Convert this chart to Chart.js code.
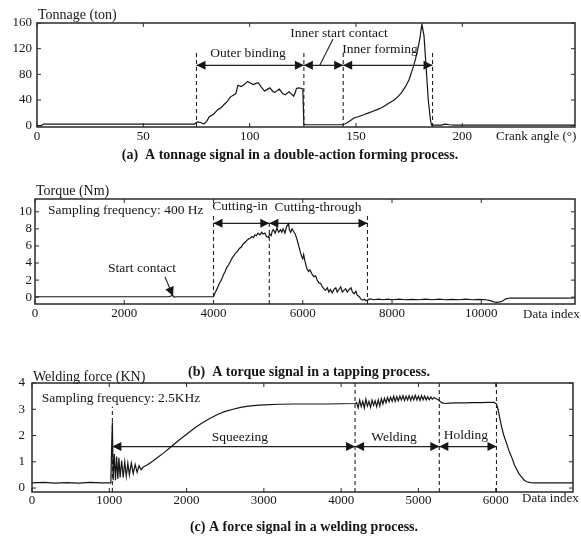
<!DOCTYPE html>
<html><head><meta charset="utf-8">
<script src="https://cdn.jsdelivr.net/npm/chart.js@4.4.0/dist/chart.umd.min.js"></script>
<style>
html,body{margin:0;padding:0;background:#fff;}
#wrap{position:relative;width:581px;height:538px;background:#fff;}
canvas{position:absolute;left:0;top:0;}
</style></head><body>
<div id="wrap">
<canvas id="ca" width="581" height="538"></canvas>
<canvas id="cb" width="581" height="538"></canvas>
<canvas id="cc" width="581" height="538"></canvas>
</div>
<script>
// ---------- Panel (a): tonnage vs crank angle ----------
const angleA = [0,2,3,74,75.5,77,78.5,80,81,83,85,86.5,88,89.5,91,92.5,93.5,94.5,96,97.5,99,100.5,101.7,103,104,105.5,107,108.5,109.5,111,112,113,114,115.5,116.7,118.5,119.5,120.7,121.5,122,123,124.5,125,125.5,126.5,143.5,145,147,149,151,153.6,156,158,160,162,164,166,168,170,171.5,173.5,175,176,177,178,179,180,181,182,183,184,185,185.5,190,192,194,196,253];
const tonnageA = [0,0,2.5,2.5,6,5,2.5,8,14,18,25,28,33,38,45,48,50,63,61,64,69,66,64,66,67,60,54,57,59,53,52,55,57,50,48,53,50,46,52,58,59,58,57,2,1.5,1.5,3,7,12,14,17,20,22.5,25,28,32,36,40,46,52,62,72,82,92,104,118,135,158,140,90,40,10,1,1,2.5,1.5,1,1];
const ticksAX = [0,50,100,150,200];
const ticksAY = [0,40,80,120,160];
const phaseXA = [75,125.5,144,186];
const phaseTopA = [115,115,115,115];
const arrowsA = [[75,125.5],[125.5,144],[144,186]];
const arrowYA = 94;

// ---------- Panel (b): torque vs data index ----------
const indexB = [0,1500,3000,3080,3120,3160,3950,4000,4025,4080,4130,4176,4220,4260,4300,4340,4380,4420,4460,4500,4540,4580,4628,4660,4700,4740,4779,4820,4860,4900,4928,4960,5000,5040,5079,5110,5150,5190,5230,5260,5290,5320,5343,5380,5420,5460,5500,5530,5560,5600,5640,5682,5700,5730,5760,5795,5830,5869,5900,5944,5980,6000,6020,6050,6095,6130,6160,6208,6250,6290,6321,6360,6400,6440,6472,6510,6550,6585,6620,6659,6700,6740,6772,6810,6850,6885,6920,6960,6998,7040,7080,7111,7150,7190,7223,7260,7300,7336,7380,7410,7450,7500,7600,7700,7800,7900,8000,8150,8300,8450,8600,8750,8900,9050,9200,9350,9500,9650,9800,9950,10100,10200,10280,10350,10420,10480,10550,10650,10800,11000,11300,11600,11900,12100];
const torqueB = [0.05,0.05,0.05,0.2,0.0,0.05,0.05,0.05,0.4,1.0,1.6,2.0,2.6,3.0,3.5,3.8,4.2,4.6,4.9,5.2,5.4,5.7,5.9,6.2,6.4,6.6,6.8,6.9,7.1,7.0,7.3,7.2,7.5,7.3,7.6,7.4,7.5,7.1,7.0,7.4,7.2,7.8,7.9,7.5,8.1,7.6,7.9,7.6,8.0,7.5,8.3,8.6,7.9,7.6,8.0,7.7,7.4,6.8,6.2,5.3,4.7,4.5,5.0,4.2,3.3,3.0,3.2,2.7,2.4,2.5,2.0,1.7,1.6,1.2,1.0,0.8,1.1,0.6,0.9,0.5,0.9,1.1,0.6,0.9,1.2,0.6,0.8,1.0,0.6,0.9,1.1,0.6,0.4,0.7,0.2,0.1,-0.2,-0.35,-0.25,-0.4,-0.35,-0.2,-0.3,-0.22,-0.3,-0.24,-0.3,-0.22,-0.3,-0.25,-0.3,-0.22,-0.3,-0.24,-0.3,-0.25,-0.3,-0.24,-0.3,-0.25,-0.3,-0.4,-0.55,-0.6,-0.55,-0.45,-0.2,-0.1,-0.12,-0.1,-0.12,-0.1,-0.12,-0.1];
const ticksBX = [0,2000,4000,6000,8000,10000];
const ticksBY = [0,2,4,6,8,10];
const phaseXB = [4000,5250,7450];
const phaseTopB = [9.6,8.8,9.6];
const arrowsB = [[4000,5250],[5250,7450]];
const arrowYB = 8.65;

// ---------- Panel (c): welding force vs data index ----------
const indexC = [0,150,300,450,600,750,900,1020,1030,1040,1050,1065,1080,1095,1110,1125,1140,1160,1180,1200,1220,1240,1260,1285,1310,1335,1360,1385,1410,1440,1500,1560,1620,1700,1800,1900,2000,2100,2200,2300,2400,2500,2600,2700,2800,2900,3000,3200,3400,3600,3800,4000,4180,
 4200,4220,4240,4260,4280,4300,4320,4340,4360,4380,4400,4420,4440,4460,4480,4500,4520,4540,4560,4580,4600,4620,4640,4660,4680,4700,4720,4740,4760,4780,4800,4820,4840,4860,4880,4900,4920,4940,4960,4980,5000,5020,5040,5060,5080,5100,5120,5140,5160,5180,5200,
 5230,5260,5300,5340,5400,5500,5600,5700,5800,5900,5980,6010,6030,6050,6075,6100,6140,6180,6210,6240,6270,6300,6335,6370,6400,6450,6500,7000];
const forceC = [0.2,0.22,0.19,0.21,0.19,0.22,0.2,0.2,1.5,2.5,0.3,1.3,0.3,1.2,0.35,1.15,0.4,1.05,0.4,1.0,0.45,0.95,0.5,0.95,0.55,0.9,0.6,0.85,0.7,0.8,0.9,1.02,1.15,1.33,1.57,1.82,2.05,2.28,2.48,2.65,2.8,2.92,3.0,3.07,3.12,3.15,3.17,3.19,3.2,3.2,3.2,3.21,3.22,
 3.25,3.05,3.35,3.1,3.3,3.05,3.38,3.12,3.3,3.08,3.35,3.15,3.32,3.1,3.36,3.12,3.4,3.2,3.42,3.25,3.45,3.28,3.46,3.3,3.5,3.3,3.48,3.32,3.5,3.35,3.52,3.33,3.5,3.35,3.52,3.34,3.5,3.36,3.53,3.35,3.5,3.34,3.52,3.36,3.5,3.35,3.48,3.36,3.47,3.38,3.45,
 3.4,3.35,3.25,3.22,3.23,3.24,3.24,3.25,3.25,3.26,3.26,3.2,3.0,2.7,2.35,2.05,1.7,1.35,1.15,0.9,0.72,0.55,0.42,0.3,0.24,0.21,0.2,0.2];
const ticksCX = [0,1000,2000,3000,4000,5000,6000];
const ticksCY = [0,1,2,3,4];
const phaseXC = [1040,4180,5270,6010];
const phaseTopC = [3.1,4,4,4];
const arrowsC = [[1040,4180],[4180,5270],[5270,6010]];
const arrowYC = 1.58;

// ---------- drawing ----------
const FONT = '"Liberation Serif", "Times New Roman", serif';
const INK = '#161616';
Chart.defaults.font.family = FONT;
Chart.defaults.color = INK;

function head(ctx, x, y, dir) {
  ctx.beginPath();
  ctx.moveTo(x, y);
  ctx.lineTo(x - dir * 9, y - 4.5);
  ctx.lineTo(x - dir * 9, y + 4.5);
  ctx.closePath();
  ctx.fill();
}

function makePanel(o) {
  const sets = [];
  sets.push({data: o.xs.map((x, i) => ({x: x, y: o.ys[i]})), borderColor: '#151515', borderWidth: 1.2, pointRadius: 0, tension: 0});
  o.phaseX.forEach((p, i) => sets.push({data: [{x: p, y: o.yMin}, {x: p, y: o.phaseTop[i]}], borderColor: '#222', borderWidth: 1.1, borderDash: [4, 3], pointRadius: 0}));
  o.arrows.forEach(a => sets.push({data: [{x: a[0], y: o.arrowY}, {x: a[1], y: o.arrowY}], borderColor: '#222', borderWidth: 1.2, pointRadius: 0}));
  (o.leaders || []).forEach(l => sets.push({data: [{x: l[0], y: l[1]}, {x: l[2], y: l[3]}], borderColor: '#222', borderWidth: 1.1, pointRadius: 0}));

  const deco = {
    id: 'deco',
    afterDatasetsDraw(chart) {
      const ctx = chart.ctx, xs = chart.scales.x, ys = chart.scales.y, a = chart.chartArea;
      ctx.save();
      ctx.fillStyle = INK;
      o.arrows.forEach(ar => {
        const py = ys.getPixelForValue(o.arrowY);
        head(ctx, xs.getPixelForValue(ar[0]), py, -1);
        head(ctx, xs.getPixelForValue(ar[1]), py, 1);
      });
      (o.pointers || []).forEach(p => {
        const x1 = xs.getPixelForValue(p[0]), y1 = ys.getPixelForValue(p[1]);
        const x2 = xs.getPixelForValue(p[2]), y2 = ys.getPixelForValue(p[3]);
        ctx.strokeStyle = '#222'; ctx.lineWidth = 1.1;
        ctx.beginPath(); ctx.moveTo(x1, y1); ctx.lineTo(x2, y2); ctx.stroke();
        const ang = Math.atan2(y2 - y1, x2 - x1);
        ctx.save(); ctx.translate(x2, y2); ctx.rotate(ang);
        ctx.beginPath(); ctx.moveTo(0, 0); ctx.lineTo(-9, -4.5); ctx.lineTo(-9, 4.5); ctx.closePath(); ctx.fill();
        ctx.restore();
      });
      // frame
      ctx.strokeStyle = '#2a2a2a'; ctx.lineWidth = 1.5;
      ctx.strokeRect(a.left, a.top, a.right - a.left, a.bottom - a.top);
      // inward ticks on all sides
      ctx.lineWidth = 1;
      o.xt.forEach(v => {
        const px = xs.getPixelForValue(v);
        ctx.beginPath(); ctx.moveTo(px, a.bottom); ctx.lineTo(px, a.bottom - 4);
        ctx.moveTo(px, a.top); ctx.lineTo(px, a.top + 4); ctx.stroke();
      });
      o.yt.forEach(v => {
        const py = ys.getPixelForValue(v);
        ctx.beginPath(); ctx.moveTo(a.left, py); ctx.lineTo(a.left + 4, py);
        ctx.moveTo(a.right, py); ctx.lineTo(a.right - 4, py); ctx.stroke();
      });
      // annotation texts in data coordinates
      ctx.textBaseline = 'middle';
      o.notes.forEach(n => {
        ctx.font = (n.size || 13.5) + 'px ' + FONT;
        ctx.textAlign = n.align || 'center';
        ctx.fillText(n.t, xs.getPixelForValue(n.x), ys.getPixelForValue(n.y));
      });
      // titles and captions (page positions)
      o.labels.forEach(n => {
        ctx.font = (n.weight || 'normal') + ' ' + (n.size || 14) + 'px ' + FONT;
        ctx.textAlign = n.align || 'left';
        ctx.fillText(n.t, n.px, n.py);
      });
      ctx.restore();
    }
  };

  return new Chart(document.getElementById(o.id), {
    type: 'line',
    data: {datasets: sets},
    options: {
      responsive: false, animation: false, devicePixelRatio: 1,
      plugins: {legend: {display: false}, tooltip: {enabled: false}},
      layout: {padding: {left: 0, top: o.area.top, right: 581 - o.area.right, bottom: 0}},
      scales: {
        x: {
          type: 'linear', min: o.xMin, max: o.xMax,
          grid: {display: false, drawTicks: false}, border: {display: false},
          afterBuildTicks: s => { s.ticks = o.xt.map(v => ({value: v})); },
          afterFit: s => { s.height = 538 - o.area.bottom; },
          ticks: {autoSkip: false, maxRotation: 0, padding: o.xPad, font: {size: 13}, color: INK, callback: v => String(v)}
        },
        y: {
          type: 'linear', min: o.yMin, max: o.yMax,
          grid: {display: false, drawTicks: false}, border: {display: false},
          afterBuildTicks: s => { s.ticks = o.yt.map(v => ({value: v})); },
          afterFit: s => { s.width = o.area.left; },
          ticks: {autoSkip: false, padding: o.yPad, font: {size: 13}, color: INK, callback: v => String(v)}
        }
      }
    },
    plugins: [deco]
  });
}

makePanel({
  id: 'ca', xs: angleA, ys: tonnageA, xMin: 0, xMax: 253, yMin: -2, yMax: 160,
  area: {left: 37, right: 575, top: 23, bottom: 127}, xt: ticksAX, yt: ticksAY, xPad: 2, yPad: 5,
  phaseX: phaseXA, phaseTop: phaseTopA, arrows: arrowsA, arrowY: arrowYA,
  leaders: [[139.2, 135, 133, 94]],
  notes: [
    {t: 'Outer binding', x: 99.2, y: 113},
    {t: 'Inner start contact', x: 142, y: 144},
    {t: 'Inner forming', x: 161.3, y: 119.5}
  ],
  labels: [
    {t: 'Tonnage (ton)', px: 38, py: 15},
    {t: 'Crank angle (\u00B0)', px: 496, py: 137, size: 13},
    {t: '(a)  A tonnage signal in a double-action forming process.', px: 290, py: 155, align: 'center', weight: 'bold'}
  ]
});

makePanel({
  id: 'cb', xs: indexB, ys: torqueB, xMin: 0, xMax: 12100, yMin: -0.8, yMax: 11.5,
  area: {left: 35, right: 575, top: 199, bottom: 304}, xt: ticksBX, yt: ticksBY, xPad: 2, yPad: 3,
  phaseX: phaseXB, phaseTop: phaseTopB, arrows: arrowsB, arrowY: arrowYB,
  pointers: [[2913, 2.36, 3092, 0.14]],
  notes: [
    {t: 'Sampling frequency: 400 Hz', x: 291, y: 10.1, align: 'left'},
    {t: 'Cutting-in', x: 4593, y: 10.6},
    {t: 'Cutting-through', x: 6341, y: 10.56},
    {t: 'Start contact', x: 2397, y: 3.42}
  ],
  labels: [
    {t: 'Torque (Nm)', px: 36, py: 191},
    {t: 'Data index', px: 523, py: 315, size: 13},
    {t: '(b)  A torque signal in a tapping process.', px: 309, py: 372, align: 'center', weight: 'bold'}
  ]
});

makePanel({
  id: 'cc', xs: indexC, ys: forceC, xMin: 0, xMax: 7000, yMin: -0.15, yMax: 4,
  area: {left: 32, right: 573, top: 383, bottom: 492}, xt: ticksCX, yt: ticksCY, xPad: 1, yPad: 7,
  phaseX: phaseXC, phaseTop: phaseTopC, arrows: arrowsC, arrowY: arrowYC,
  notes: [
    {t: 'Sampling frequency: 2.5KHz', x: 126, y: 3.4, align: 'left'},
    {t: 'Squeezing', x: 2689, y: 1.94},
    {t: 'Welding', x: 4683, y: 1.94},
    {t: 'Holding', x: 5615, y: 2.0}
  ],
  labels: [
    {t: 'Welding force (KN)', px: 33, py: 377},
    {t: 'Data index', px: 522, py: 499, size: 13},
    {t: '(c) A force signal in a welding process.', px: 304, py: 527, align: 'center', weight: 'bold'}
  ]
});
</script>
</body></html>
